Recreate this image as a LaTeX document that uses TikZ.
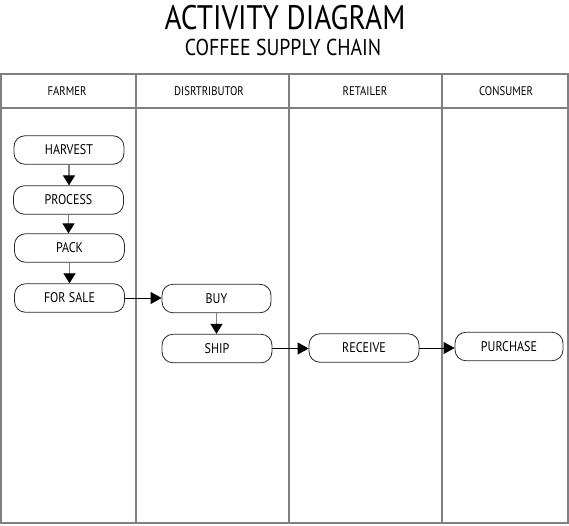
\documentclass[tikz,border=0pt]{standalone}
\usepackage{fontspec}
\setmainfont{PT Sans}
\newfontfamily\narrowfont[FakeStretch=0.86]{PT Sans}
\usetikzlibrary{arrows.meta}
\definecolor{lanegray}{RGB}{128,128,130}
\definecolor{boxline}{RGB}{40,40,40}
\tikzset{
  lane/.style={draw=lanegray, line width=1.8pt},
  act/.style={draw=boxline, line width=0.8pt, rounded corners=11pt, minimum width=110pt, minimum height=28.5pt, inner sep=0pt, font=\narrowfont\fontsize{14}{16}\selectfont},
  hdr/.style={font=\narrowfont\fontsize{12.5}{14}\selectfont},
  vflow/.style={draw=lanegray, line width=1.2pt, -{Triangle[length=10pt,width=12pt,color=black]}},
  hflow/.style={draw=black, line width=0.8pt, -{Triangle[length=11pt,width=12pt,color=black]}}
}
\begin{document}
\begin{tikzpicture}[x=1pt,y=-1pt]
\useasboundingbox (0,0) rectangle (569,525);
\node (title) at (285,18) {\narrowfont\fontsize{34}{36}\selectfont ACTIVITY DIAGRAM};
\node (subtitle) at (283,47) {\narrowfont\fontsize{23}{26}\selectfont COFFEE SUPPLY CHAIN};
\draw[lane] (1,74) rectangle (568,523);
\draw[lane] (1,108) -- (568,108);
\draw[lane] (136,74) -- (136,523);
\draw[lane] (289,74) -- (289,523);
\draw[lane] (442,74) -- (442,523);
\node[hdr] (h1) at (67,91) {FARMER};
\node[hdr] (h2) at (209,91) {DISRTRIBUTOR};
\node[hdr] (h3) at (365,91) {RETAILER};
\node[hdr] (h4) at (506,91) {CONSUMER};
\node[act] (harvest) at (69,150) {HARVEST};
\node[act] (process) at (68.5,200) {PROCESS};
\node[act] (pack) at (69.5,248) {PACK};
\node[act] (forsale) at (69.5,298) {FOR SALE};
\node[act, minimum width=109pt] (buy) at (216.5,298.5) {BUY};
\node[act] (ship) at (217,348.5) {SHIP};
\node[act] (receive) at (364,348) {RECEIVE};
\node[act, minimum width=108pt] (purchase) at (509,346.5) {PURCHASE};
\draw[vflow] (harvest.south) -- (harvest.south |- process.north);
\draw[vflow] (process.south) -- (process.south |- pack.north);
\draw[vflow] (pack.south) -- (pack.south |- forsale.north);
\draw[vflow] (buy.south) -- (buy.south |- ship.north);
\draw[hflow] (forsale.east) -- (forsale.east -| buy.west);
\draw[hflow] (ship.east) -- (ship.east -| receive.west);
\draw[hflow] (receive.east) -- (receive.east -| purchase.west);
\end{tikzpicture}
\end{document}
